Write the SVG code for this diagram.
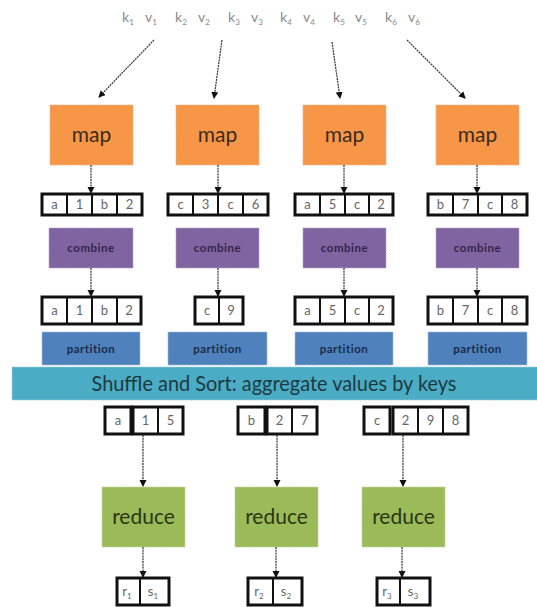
<svg xmlns="http://www.w3.org/2000/svg" width="537" height="607" viewBox="0 0 537 607">
<style>
.kv{font-family:Lato,"Open Sans",sans-serif;font-size:14px;fill:#8a8a8a}
.sub{font-size:8px}
.map{fill:#f79646;stroke:#e8b48a;stroke-width:1;stroke-dasharray:1.5 1}
.comb{fill:#8064a2;stroke:#b3a3c8;stroke-width:1;stroke-dasharray:1.5 1}
.part{fill:#4f81bd;stroke:#a5bddb;stroke-width:1;stroke-dasharray:1.5 1}
.red{fill:#9bbb59;stroke:#c3d69b;stroke-width:1;stroke-dasharray:1.5 1}
.big{font-family:Lato,"Open Sans",sans-serif;font-size:21px;fill:#3b2b1e;text-anchor:middle}
.bigr{font-family:Lato,"Open Sans",sans-serif;font-size:21px;fill:#2b3515;text-anchor:middle}
.small{font-family:Lato,"Open Sans",sans-serif;font-size:11.5px;font-weight:bold;text-anchor:middle;letter-spacing:0.5px}
.cell{fill:#ffffff;stroke:#111;stroke-width:2}
.outer{fill:none;stroke:#111;stroke-width:3}
.ct{font-family:Lato,"Open Sans",sans-serif;font-size:13px;fill:#666;text-anchor:middle}
.arr{stroke:#333;stroke-width:1.2;stroke-dasharray:2 0.8;fill:none;marker-end:url(#ah)}
</style>
<defs>
<marker id="ah" markerWidth="8" markerHeight="8" refX="6" refY="4" orient="auto" markerUnits="userSpaceOnUse">
<path d="M0,0.5 L7,4 L0,7.5 Z" fill="#111"/>
</marker>
</defs>
<rect width="537" height="607" fill="#ffffff"/>

<g id="inputs">
<text class="kv" x="122" y="22">k<tspan class="sub" dy="3">1</tspan></text>
<text class="kv" x="145" y="22">v<tspan class="sub" dy="3">1</tspan></text>
<text class="kv" x="175" y="22">k<tspan class="sub" dy="3">2</tspan></text>
<text class="kv" x="198" y="22">v<tspan class="sub" dy="3">2</tspan></text>
<text class="kv" x="228" y="22">k<tspan class="sub" dy="3">3</tspan></text>
<text class="kv" x="251" y="22">v<tspan class="sub" dy="3">3</tspan></text>
<text class="kv" x="280" y="22">k<tspan class="sub" dy="3">4</tspan></text>
<text class="kv" x="303" y="22">v<tspan class="sub" dy="3">4</tspan></text>
<text class="kv" x="333" y="22">k<tspan class="sub" dy="3">5</tspan></text>
<text class="kv" x="355" y="22">v<tspan class="sub" dy="3">5</tspan></text>
<text class="kv" x="385" y="22">k<tspan class="sub" dy="3">6</tspan></text>
<text class="kv" x="408" y="22">v<tspan class="sub" dy="3">6</tspan></text>
</g>

<g id="map1"><rect class="map" x="50" y="105" width="83" height="60"/><text class="big" x="91.5" y="142">map</text></g>
<g id="map2"><rect class="map" x="176" y="105" width="83" height="60"/><text class="big" x="217.5" y="142">map</text></g>
<g id="map3"><rect class="map" x="303" y="105" width="83" height="60"/><text class="big" x="344.5" y="142">map</text></g>
<g id="map4"><rect class="map" x="436" y="105" width="83" height="60"/><text class="big" x="477.5" y="142">map</text></g>

<g id="mapout1">
<rect class="cell" x="42" y="194" width="25" height="21"/><rect class="cell" x="67" y="194" width="25" height="21"/><rect class="cell" x="92" y="194" width="25" height="21"/><rect class="cell" x="117" y="194" width="25" height="21"/><rect class="outer" x="42" y="194" width="100" height="21"/>
<text class="ct" x="54.5" y="209">a</text><text class="ct" x="79.5" y="209">1</text><text class="ct" x="104.5" y="209">b</text><text class="ct" x="129.5" y="209">2</text>
</g>
<g id="mapout2">
<rect class="cell" x="168" y="194" width="25" height="21"/><rect class="cell" x="193" y="194" width="25" height="21"/><rect class="cell" x="218" y="194" width="25" height="21"/><rect class="cell" x="243" y="194" width="25" height="21"/><rect class="outer" x="168" y="194" width="100" height="21"/>
<text class="ct" x="180.5" y="209">c</text><text class="ct" x="205.5" y="209">3</text><text class="ct" x="230.5" y="209">c</text><text class="ct" x="255.5" y="209">6</text>
</g>
<g id="mapout3">
<rect class="cell" x="295" y="194" width="25" height="21"/><rect class="cell" x="320" y="194" width="25" height="21"/><rect class="cell" x="345" y="194" width="24" height="21"/><rect class="cell" x="369" y="194" width="24" height="21"/><rect class="outer" x="295" y="194" width="98" height="21"/>
<text class="ct" x="307.5" y="209">a</text><text class="ct" x="332.5" y="209">5</text><text class="ct" x="357" y="209">c</text><text class="ct" x="381" y="209">2</text>
</g>
<g id="mapout4">
<rect class="cell" x="428" y="194" width="25" height="21"/><rect class="cell" x="453" y="194" width="25" height="21"/><rect class="cell" x="478" y="194" width="24" height="21"/><rect class="cell" x="502" y="194" width="25" height="21"/><rect class="outer" x="428" y="194" width="99" height="21"/>
<text class="ct" x="440.5" y="209">b</text><text class="ct" x="465.5" y="209">7</text><text class="ct" x="490" y="209">c</text><text class="ct" x="514.5" y="209">8</text>
</g>

<g id="combine1"><rect class="comb" x="49" y="228" width="84" height="40"/><text class="small" x="91" y="252" fill="#33264a">combine</text></g>
<g id="combine2"><rect class="comb" x="176" y="228" width="83" height="40"/><text class="small" x="217.5" y="252" fill="#33264a">combine</text></g>
<g id="combine3"><rect class="comb" x="303" y="228" width="83" height="40"/><text class="small" x="344.5" y="252" fill="#33264a">combine</text></g>
<g id="combine4"><rect class="comb" x="436" y="228" width="83" height="40"/><text class="small" x="477.5" y="252" fill="#33264a">combine</text></g>

<g id="combout1">
<rect class="cell" x="42" y="297" width="25" height="27"/><rect class="cell" x="67" y="297" width="25" height="27"/><rect class="cell" x="92" y="297" width="25" height="27"/><rect class="cell" x="117" y="297" width="24" height="27"/><rect class="outer" x="42" y="297" width="99" height="27"/>
<text class="ct" x="54.5" y="315">a</text><text class="ct" x="79.5" y="315">1</text><text class="ct" x="104.5" y="315">b</text><text class="ct" x="129" y="315">2</text>
</g>
<g id="combout2">
<rect class="cell" x="195" y="297" width="24" height="27"/><rect class="cell" x="219" y="297" width="24" height="27"/><rect class="outer" x="195" y="297" width="48" height="27"/>
<text class="ct" x="207" y="315">c</text><text class="ct" x="231" y="315">9</text>
</g>
<g id="combout3">
<rect class="cell" x="295" y="297" width="25" height="27"/><rect class="cell" x="320" y="297" width="25" height="27"/><rect class="cell" x="345" y="297" width="24" height="27"/><rect class="cell" x="369" y="297" width="24" height="27"/><rect class="outer" x="295" y="297" width="98" height="27"/>
<text class="ct" x="307.5" y="315">a</text><text class="ct" x="332.5" y="315">5</text><text class="ct" x="357" y="315">c</text><text class="ct" x="381" y="315">2</text>
</g>
<g id="combout4">
<rect class="cell" x="428" y="297" width="25" height="27"/><rect class="cell" x="453" y="297" width="25" height="27"/><rect class="cell" x="478" y="297" width="24" height="27"/><rect class="cell" x="502" y="297" width="25" height="27"/><rect class="outer" x="428" y="297" width="99" height="27"/>
<text class="ct" x="440.5" y="315">b</text><text class="ct" x="465.5" y="315">7</text><text class="ct" x="490" y="315">c</text><text class="ct" x="514.5" y="315">8</text>
</g>

<g id="partition1"><rect class="part" x="42" y="332" width="98" height="33"/><text class="small" x="91" y="353" fill="#182c4a">partition</text></g>
<g id="partition2"><rect class="part" x="168" y="332" width="99" height="33"/><text class="small" x="217.5" y="353" fill="#182c4a">partition</text></g>
<g id="partition3"><rect class="part" x="295" y="332" width="98" height="33"/><text class="small" x="344" y="353" fill="#182c4a">partition</text></g>
<g id="partition4"><rect class="part" x="428" y="332" width="99" height="33"/><text class="small" x="477.5" y="353" fill="#182c4a">partition</text></g>

<g id="shuffle">
<rect x="12" y="367" width="526" height="33" fill="#4bacc6" stroke="#9fcfdc" stroke-width="1" stroke-dasharray="1.5 1"/>
<text x="274" y="391" font-family="Lato,'Open Sans',sans-serif" font-size="21" fill="#1e3a40" text-anchor="middle" textLength="365" lengthAdjust="spacingAndGlyphs">Shuffle and Sort: aggregate values by keys</text>
</g>

<g id="group1">
<rect class="cell" x="105" y="407" width="26" height="27"/><rect class="outer" x="105" y="407" width="26" height="27"/>
<rect class="cell" x="133" y="407" width="25" height="27"/><rect class="cell" x="158" y="407" width="25" height="27"/><rect class="outer" x="133" y="407" width="50" height="27"/>
<text class="ct" x="118" y="425">a</text><text class="ct" x="145.5" y="425">1</text><text class="ct" x="170.5" y="425">5</text>
</g>
<g id="group2">
<rect class="cell" x="238" y="407" width="27" height="27"/><rect class="outer" x="238" y="407" width="27" height="27"/>
<rect class="cell" x="267" y="407" width="25" height="27"/><rect class="cell" x="292" y="407" width="25" height="27"/><rect class="outer" x="267" y="407" width="50" height="27"/>
<text class="ct" x="251.5" y="425">b</text><text class="ct" x="279.5" y="425">2</text><text class="ct" x="304.5" y="425">7</text>
</g>
<g id="group3">
<rect class="cell" x="364" y="407" width="26" height="27"/><rect class="outer" x="364" y="407" width="26" height="27"/>
<rect class="cell" x="393" y="407" width="25" height="27"/><rect class="cell" x="418" y="407" width="25" height="27"/><rect class="cell" x="443" y="407" width="25" height="27"/><rect class="outer" x="393" y="407" width="75" height="27"/>
<text class="ct" x="377" y="425">c</text><text class="ct" x="405.5" y="425">2</text><text class="ct" x="430.5" y="425">9</text><text class="ct" x="455.5" y="425">8</text>
</g>

<g id="reduce1"><rect class="red" x="102" y="487" width="83" height="60"/><text class="bigr" x="143.5" y="524">reduce</text></g>
<g id="reduce2"><rect class="red" x="235" y="487" width="83" height="60"/><text class="bigr" x="276.5" y="524">reduce</text></g>
<g id="reduce3"><rect class="red" x="362" y="487" width="83" height="60"/><text class="bigr" x="403.5" y="524">reduce</text></g>

<g id="out1">
<rect class="cell" x="117" y="578" width="23" height="27"/><rect class="cell" x="140" y="578" width="29" height="27"/><rect class="outer" x="117" y="578" width="52" height="27"/>
<text class="ct" x="127" y="596">r<tspan class="sub" dy="3">1</tspan></text><text class="ct" x="153" y="596">s<tspan class="sub" dy="3">1</tspan></text>
</g>
<g id="out2">
<rect class="cell" x="248" y="578" width="25" height="27"/><rect class="cell" x="273" y="578" width="29" height="27"/><rect class="outer" x="248" y="578" width="54" height="27"/>
<text class="ct" x="259" y="596">r<tspan class="sub" dy="3">2</tspan></text><text class="ct" x="286" y="596">s<tspan class="sub" dy="3">2</tspan></text>
</g>
<g id="out3">
<rect class="cell" x="377" y="578" width="23" height="27"/><rect class="cell" x="400" y="578" width="30" height="27"/><rect class="outer" x="377" y="578" width="53" height="27"/>
<text class="ct" x="387" y="596">r<tspan class="sub" dy="3">3</tspan></text><text class="ct" x="413" y="596">s<tspan class="sub" dy="3">3</tspan></text>
</g>

<g id="connectors">
<line class="arr" x1="154" y1="40" x2="99" y2="97"/>
<line class="arr" x1="222" y1="40" x2="214" y2="98"/>
<line class="arr" x1="332" y1="42" x2="340" y2="98"/>
<line class="arr" x1="407" y1="40" x2="465" y2="98"/>
<line class="arr" x1="91" y1="165" x2="91" y2="193"/>
<line class="arr" x1="218" y1="165" x2="218" y2="193"/>
<line class="arr" x1="344" y1="165" x2="344" y2="193"/>
<line class="arr" x1="477" y1="165" x2="477" y2="193"/>
<line class="arr" x1="91" y1="268" x2="91" y2="296"/>
<line class="arr" x1="218" y1="268" x2="218" y2="296"/>
<line class="arr" x1="344" y1="268" x2="344" y2="296"/>
<line class="arr" x1="477" y1="268" x2="477" y2="296"/>
<line class="arr" x1="143" y1="435" x2="143" y2="486"/>
<line class="arr" x1="277" y1="435" x2="277" y2="486"/>
<line class="arr" x1="403" y1="435" x2="403" y2="486"/>
<line class="arr" x1="143" y1="547" x2="143" y2="577"/>
<line class="arr" x1="276" y1="547" x2="276" y2="577"/>
<line class="arr" x1="402" y1="547" x2="402" y2="577"/>
</g>
</svg>
